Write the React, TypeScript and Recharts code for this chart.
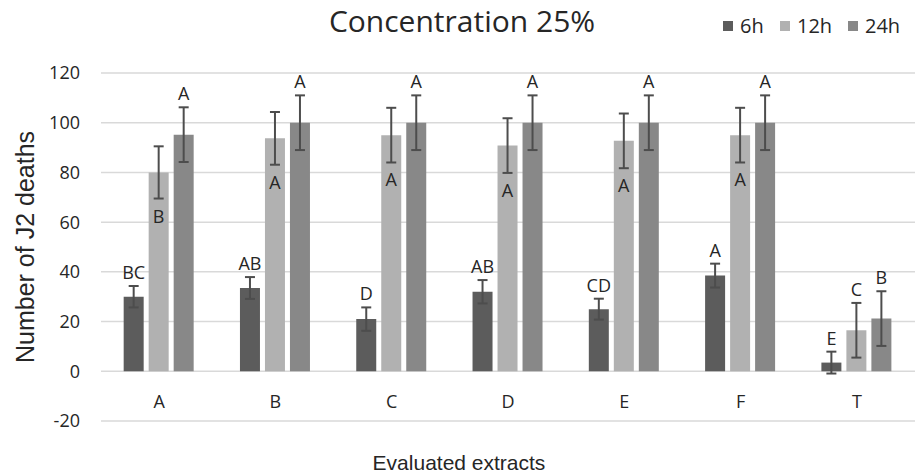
import { BarChart, Bar, XAxis, YAxis, CartesianGrid, ErrorBar, LabelList } from 'recharts'

const extracts = ['A', 'B', 'C', 'D', 'E', 'F', 'T']

const deaths6h = [30, 33.5, 21, 32, 25, 38.5, 3.5]
const err6h = [4.3, 4.4, 4.7, 4.7, 4.2, 4.8, 4.4]
const letters6h = ['BC', 'AB', 'D', 'AB', 'CD', 'A', 'E']

const deaths12h = [80, 93.7, 95, 90.8, 92.7, 95, 16.5]
const err12h = [10.5, 10.6, 11, 11, 11, 11, 11]
const letters12h = ['B', 'A', 'A', 'A', 'A', 'A', 'C']
const place12h = ['below', 'below', 'below', 'below', 'below', 'below', 'above']

const deaths24h = [95.2, 100, 100, 100, 100, 100, 21.2]
const err24h = [11, 11, 11, 11, 11, 11, 11]
const letters24h = ['A', 'A', 'A', 'A', 'A', 'A', 'B']

const yTicks = [-20, 0, 20, 40, 60, 80, 100, 120]

const COLORS = { h6: '#5c5c5c', h12: '#b1b1b1', h24: '#888888' }
const ERR_COLOR = '#4d4d4d'
const TEXT = '#262626'
const FONT = '"Open Sans", sans-serif'
const AXIS_FONT = '"Liberation Sans", Arial, sans-serif'

const data = extracts.map((cat, i) => ({
  cat,
  h6: deaths6h[i],
  e6: err6h[i],
  h12: deaths12h[i],
  e12: err12h[i],
  h24: deaths24h[i],
  e24: err24h[i],
}))

// letter labels sit above the error bar top, or below the error bar bottom
function makeLetterLabel(values: number[], errs: number[], letters: string[], places?: string[]) {
  return (props: any) => {
    const { x, y, width, height, index } = props
    const v = values[index]
    const ppu = Number(height) / v
    const cx = Number(x) + Number(width) / 2
    const place = places ? places[index] : 'above'
    const ty = place === 'below'
      ? Number(y) + errs[index] * ppu + 24
      : Number(y) - errs[index] * ppu - 7
    return (
      <text x={cx} y={ty} textAnchor="middle" fontSize={18} fontFamily={FONT} fill={TEXT}>
        {letters[index]}
      </text>
    )
  }
}

function CategoryTick(props: any) {
  const { x, y, payload } = props
  return (
    <text x={x} y={y - 15} textAnchor="middle" fontSize={18} fontFamily={FONT} fill={TEXT}>
      {payload.value}
    </text>
  )
}

const legendItems = [
  { label: '6h', color: COLORS.h6, w: 57 },
  { label: '12h', color: COLORS.h12, w: 68 },
  { label: '24h', color: COLORS.h24, w: 60 },
]

export default function App() {
  return (
    <div style={{ position: 'absolute', left: 0, top: 0, width: 915, height: 475, background: '#fff' }}>
      <div
        style={{
          position: 'absolute', left: 0, width: 924, top: 0, textAlign: 'center',
          fontFamily: FONT, fontSize: 30, color: TEXT,
        }}
      >
        Concentration 25%
      </div>
      <div
        style={{
          position: 'absolute', left: 723, top: 12, display: 'flex',
          fontFamily: FONT, fontSize: 20, color: TEXT, alignItems: 'center',
        }}
      >
        {legendItems.map((it) => (
          <div key={it.label} style={{ display: 'flex', alignItems: 'center', gap: 7, width: it.w }}>
            <span style={{ width: 10, height: 10, background: it.color, display: 'inline-block' }} />
            <span>{it.label}</span>
          </div>
        ))}
      </div>
      <BarChart
        width={915}
        height={475}
        data={data}
        margin={{ top: 73, right: 0, bottom: 0, left: 0 }}
        barCategoryGap="19.5%"
        barGap={5}
      >
        <CartesianGrid vertical={false} stroke="#d9d9d9" strokeWidth={1.5} />
        <XAxis
          dataKey="cat"
          height={54}
          axisLine={false}
          tickLine={false}
          tickSize={0}
          tick={<CategoryTick />}
          label={{
            content: () => (
              <text x={459} y={470} textAnchor="middle" fontSize={21} fontFamily={AXIS_FONT} fill={TEXT}>
                Evaluated extracts
              </text>
            ),
          }}
        />
        <YAxis
          width={101}
          domain={[-20, 120]}
          ticks={yTicks}
          allowDataOverflow
          axisLine={false}
          tickLine={false}
          tickSize={0}
          tickMargin={21}
          tick={{ fontSize: 18, fontFamily: FONT, fill: TEXT }}
          label={{
            value: 'Number of J2 deaths',
            angle: -90,
            position: 'insideLeft',
            offset: 25,
            style: { textAnchor: 'middle', fontSize: 25, fontFamily: AXIS_FONT, fill: TEXT },
          }}
        />
        <Bar dataKey="h6" fill={COLORS.h6} isAnimationActive={false}>
          <ErrorBar dataKey="e6" width={5} stroke={ERR_COLOR} strokeWidth={2} direction="y" />
          <LabelList dataKey="h6" content={makeLetterLabel(deaths6h, err6h, letters6h)} />
        </Bar>
        <Bar dataKey="h12" fill={COLORS.h12} isAnimationActive={false}>
          <ErrorBar dataKey="e12" width={5} stroke={ERR_COLOR} strokeWidth={2} direction="y" />
          <LabelList dataKey="h12" content={makeLetterLabel(deaths12h, err12h, letters12h, place12h)} />
        </Bar>
        <Bar dataKey="h24" fill={COLORS.h24} isAnimationActive={false}>
          <ErrorBar dataKey="e24" width={5} stroke={ERR_COLOR} strokeWidth={2} direction="y" />
          <LabelList dataKey="h24" content={makeLetterLabel(deaths24h, err24h, letters24h)} />
        </Bar>
      </BarChart>
    </div>
  )
}
